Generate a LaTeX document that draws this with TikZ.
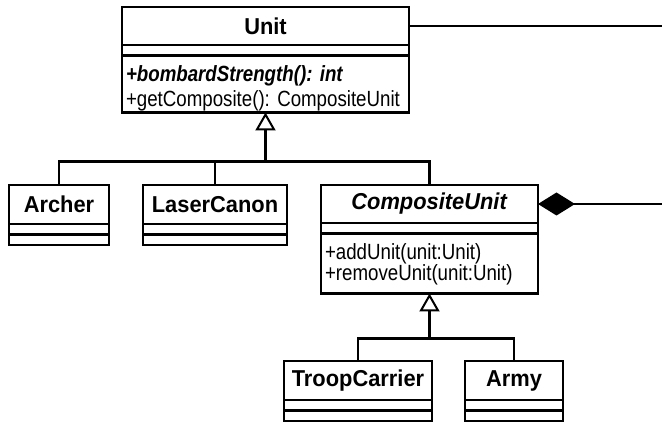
\documentclass[tikz,border=0pt]{standalone}
\usepackage{fontspec}
\setmainfont{Liberation Sans}[FakeStretch=0.95]
\newfontfamily\condfont{Liberation Sans}[FakeStretch=0.85]
\usetikzlibrary{arrows.meta}
\usetikzlibrary{calc}
\usetikzlibrary{positioning}

\begin{document}
\begin{tikzpicture}
	[x=1pt, y=-1pt,
	line width=2.2pt,
	title/.style = {draw, font=\fontsize{23}{25}\selectfont\bfseries, inner sep=0pt, outer sep=0pt, minimum height=38pt},
	part/.style = {draw, inner sep=0pt, outer sep=0pt, minimum height=10.5pt},
	ops/.style = {draw, align=left, inner xsep=4pt, inner ysep=0pt, outer sep=0pt},
	inherit/.style = {-{Triangle[open,length=18pt,width=20pt,line width=2pt]}},
	whole/.style = {-{Diamond[length=37pt,width=23pt]}}
	]
	\useasboundingbox (0,0) rectangle (662,422);

	% Unit
	\node[title, minimum width=287pt] (unit) at (265.5,26) {Unit};
	\node[part, minimum width=287pt, below=0pt of unit] (unitattr) {};
	\node[ops, text width=279pt, text height=26pt, text depth=31pt, below=0pt of unitattr,
		font=\condfont\frenchspacing\fontsize{22}{25}\selectfont] (unitops)
		{\textbf{\textit{+bombardStrength(): int}}\\+getComposite(): CompositeUnit};

	% leaves
	\node[title, minimum width=100pt, minimum height=39pt] (archer) at (59,204.5) {Archer};
	\node[part, minimum width=100pt, below=0pt of archer] (archerattr) {};
	\node[part, minimum width=100pt, below=0pt of archerattr] (archerops) {};

	\node[title, minimum width=144pt, minimum height=39pt] (laser) at (215,204.5) {LaserCanon};
	\node[part, minimum width=144pt, below=0pt of laser] (laserattr) {};
	\node[part, minimum width=144pt, below=0pt of laserattr] (laserops) {};

	% CompositeUnit
	\node[title, minimum width=217pt] (comp) at (429.5,204) {\textit{CompositeUnit}};
	\node[part, minimum width=217pt, below=0pt of comp] (compattr) {};
	\node[ops, text width=209pt, text height=26pt, text depth=34pt, below=0pt of compattr,
		font=\condfont\frenchspacing\fontsize{22}{19}\selectfont] (compops)
		{+addUnit(unit:Unit)\\+removeUnit(unit:Unit)};

	\node[title, minimum width=148pt, minimum height=39pt] (troop) at (358,380.5) {TroopCarrier};
	\node[part, minimum width=148pt, below=0pt of troop] (troopattr) {};
	\node[part, minimum width=148pt, below=0pt of troopattr] (troopops) {};

	\node[title, minimum width=98pt, minimum height=39pt] (army) at (514,380.5) {Army};
	\node[part, minimum width=98pt, below=0pt of army] (armyattr) {};
	\node[part, minimum width=98pt, below=0pt of armyattr] (armyops) {};

	% inheritance
	\coordinate (unitjoin) at ($(unitops.south)+(0,49)$);
	\draw[inherit] (unitjoin) -- (unitops.south);
	\draw (archer.north) |- (unitjoin) -| (comp.north);
	\draw (laser.north) -- (laser.north |- unitjoin);

	\coordinate (compjoin) at ($(compops.south)+(0,45)$);
	\draw[inherit] (compjoin) -- (compops.south);
	\draw (troop.north) |- (compjoin) -| (army.north);

	% composition
	\coordinate (unitend) at (662,26);
	\draw (unit.east) -- (unitend);
	\coordinate (wholeend) at (662,204);
	\draw[whole] (wholeend) -- (comp.east);
\end{tikzpicture}
\end{document}
